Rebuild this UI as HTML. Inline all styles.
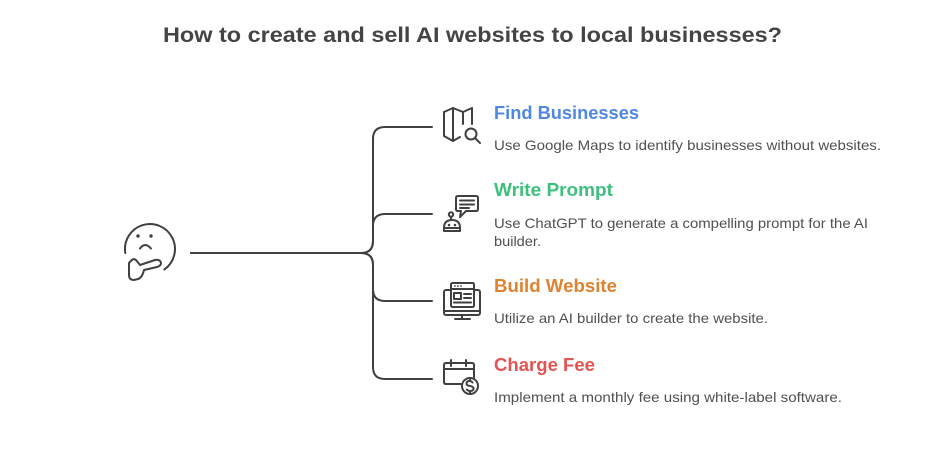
<!DOCTYPE html>
<html>
<head>
<meta charset="utf-8">
<style>
  html, body { margin: 0; padding: 0; background: #ffffff; }
  svg { display: block; }
  .t { font-family: "Liberation Sans", Arial, sans-serif; }
</style>
</head>
<body>
<svg width="948" height="457" viewBox="0 0 948 457" xmlns="http://www.w3.org/2000/svg">
  <rect width="948" height="457" fill="#ffffff"/>

  <!-- Title -->
  <text class="t" x="163" y="42" font-size="21" font-weight="bold" fill="#444444" textLength="619" lengthAdjust="spacingAndGlyphs">How to create and sell AI websites to local businesses?</text>

  <!-- Connectors -->
  <g fill="none" stroke="#404040" stroke-width="2" stroke-linecap="round" stroke-linejoin="round">
    <path d="M191,253 H361 Q373,253 373,241 V139 Q373,127 385,127 H432"/>
    <path d="M191,253 H361 Q373,253 373,241 V226 Q373,214 385,214 H432"/>
    <path d="M191,253 H361 Q373,253 373,265 V289 Q373,301 385,301 H432"/>
    <path d="M191,253 H361 Q373,253 373,265 V367 Q373,379 385,379 H432"/>
  </g>

  <!-- Thinking face -->
  <g fill="none" stroke="#404040" stroke-width="2" stroke-linecap="round" stroke-linejoin="round">
    <path d="M125.3,253 A25,25 0 1 1 164.3,269.5"/>
    <path d="M140,248.5 Q145,241.5 151,248.5"/>
    <path d="M131,261 Q133,258 136,260 L140,265 L155,260 Q160,259 161,263 Q161,266 157,267 L144,270 Q142,278 138,279 L134,280 Q129,280 129,275 V264 Q129,262 131,261 Z"/>
  </g>
  <circle cx="138" cy="236" r="1.7" fill="#404040"/>
  <circle cx="151" cy="236" r="1.7" fill="#404040"/>

  <!-- Icon 1: map with magnifier -->
  <g fill="none" stroke="#404040" stroke-width="2" stroke-linecap="round" stroke-linejoin="round">
    <path d="M444,112 L453,108 L463,112 L472,108 V124"/>
    <path d="M444,112 V136 L453,141 L460,137"/>
    <path d="M453,108 V141"/>
    <path d="M463,112 V124"/>
    <circle cx="471" cy="134" r="5.5" fill="#ffffff"/>
    <path d="M475,138 L480,143"/>
  </g>

  <!-- Icon 2: chat + robot -->
  <g fill="none" stroke="#404040" stroke-width="2" stroke-linecap="round" stroke-linejoin="round">
    <path d="M458,196 H476 Q478,196 478,198 V209 Q478,211 476,211 H466 L460,217 L461,211 H458 Q456,211 456,209 V198 Q456,196 458,196 Z"/>
    <path d="M460,200.5 H474"/>
    <path d="M460,204.5 H474"/>
    <path d="M460,208 H469"/>
    <circle cx="451" cy="214.5" r="2.2"/>
    <path d="M451,217 V220"/>
    <path d="M444,228 Q444,220 452,220 Q460,220 460,228 Z"/>
    <path d="M444,228 V231 H460 V228"/>
  </g>
  <circle cx="449" cy="225" r="1.3" fill="#404040"/>
  <circle cx="455" cy="225" r="1.3" fill="#404040"/>

  <!-- Icon 3: monitor with webpage -->
  <g fill="none" stroke="#404040" stroke-width="2" stroke-linecap="round" stroke-linejoin="round">
    <rect x="444" y="290" width="36" height="25" rx="2"/>
    <path d="M444,311 H480"/>
    <path d="M462,315 V319"/>
    <path d="M455,319 H470"/>
    <rect x="451" y="283" width="23" height="24" rx="1.5" fill="#ffffff"/>
    <path d="M451,289 H474"/>
    <rect x="454" y="293" width="7" height="6"/>
    <path d="M464,294 H471"/>
    <path d="M464,298 H471"/>
    <path d="M454,302.5 H471"/>
  </g>
  <circle cx="455" cy="286" r="0.9" fill="#404040"/>
  <circle cx="458" cy="286" r="0.9" fill="#404040"/>
  <circle cx="461" cy="286" r="0.9" fill="#404040"/>

  <!-- Icon 4: calendar with dollar -->
  <g fill="none" stroke="#404040" stroke-width="2" stroke-linecap="round" stroke-linejoin="round">
    <path d="M462,384 H446 Q444,384 444,382 V365 Q444,363 446,363 H472 Q474,363 474,365 V378"/>
    <path d="M444,369 H474"/>
    <path d="M451,360 V366"/>
    <path d="M466,360 V366"/>
    <circle cx="470" cy="386" r="8" fill="#ffffff"/>
    <path d="M472.5,382.5 Q471.5,381 469.5,381 Q466.5,381 466.5,383.5 Q466.5,385.5 470,386 Q473.5,386.5 473.5,388.8 Q473.5,391 470.3,391 Q468,391 466.8,389.5"/>
    <path d="M470,379.5 V381 M470,391 V392.5"/>
  </g>

  <!-- Labels -->
  <text class="t" x="494" y="119" font-size="18.5" font-weight="bold" fill="#4F87E3" textLength="145" lengthAdjust="spacingAndGlyphs">Find Businesses</text>
  <text class="t" x="494" y="150" font-size="14" fill="#505050" textLength="387" lengthAdjust="spacingAndGlyphs">Use Google Maps to identify businesses without websites.</text>

  <text class="t" x="494" y="196" font-size="18.5" font-weight="bold" fill="#3CC17D" textLength="119" lengthAdjust="spacingAndGlyphs">Write Prompt</text>
  <text class="t" x="494" y="228" font-size="14" fill="#505050" textLength="374" lengthAdjust="spacingAndGlyphs">Use ChatGPT to generate a compelling prompt for the AI</text>
  <text class="t" x="494" y="246" font-size="14" fill="#505050" textLength="47" lengthAdjust="spacingAndGlyphs">builder.</text>

  <text class="t" x="494" y="292" font-size="18.5" font-weight="bold" fill="#E0822E" textLength="123" lengthAdjust="spacingAndGlyphs">Build Website</text>
  <text class="t" x="494" y="323" font-size="14" fill="#505050" textLength="274" lengthAdjust="spacingAndGlyphs">Utilize an AI builder to create the website.</text>

  <text class="t" x="494" y="371" font-size="18.5" font-weight="bold" fill="#E35452" textLength="101" lengthAdjust="spacingAndGlyphs">Charge Fee</text>
  <text class="t" x="494" y="402" font-size="14" fill="#505050" textLength="348" lengthAdjust="spacingAndGlyphs">Implement a monthly fee using white-label software.</text>
</svg>
</body>
</html>
